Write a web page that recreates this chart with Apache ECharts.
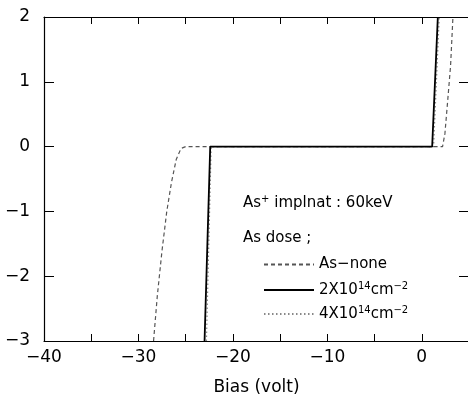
<!DOCTYPE html>
<html><head><meta charset="utf-8">
<script src="https://cdn.jsdelivr.net/npm/echarts@6/dist/echarts.min.js"></script>
<style>html,body{margin:0;padding:0;background:#fff}#c{width:468px;height:412px}</style>
</head><body><div id="c"></div>
<script>
// Data
const noneX = [-28.4, -28.0, -27.5, -27.0, -26.5, -26.0, -25.5, -25.0, 2.2, 2.45, 2.75, 3.05, 3.3];
const noneY = [-3, -2.3, -1.6, -1.0, -0.55, -0.2, -0.03, 0, 0, 0.2, 0.72, 1.25, 2];
const d2X = [-23.0, -22.4, 1.1, 1.7];
const d2Y = [-3, 0, 0, 2];
const d4X = [-22.8, -22.3, 1.25, 1.85];
const d4Y = [-3, 0, 0, 2];
const seriesNames = ['As\u2212none', '2X10{s|14}cm{s|\u22122}', '4X10{s|14}cm{s|\u22122}'];
const xTicks = [-40, -30, -20, -10, 0];
const yTicks = [-3, -2, -1, 0, 1, 2];

const pairs = (xs, ys) => xs.map((x, i) => [x, ys[i]]);
const fmt = v => (v < 0 ? '\u2212' + Math.abs(v) : String(v));
const FONT = 'DejaVu Sans';
const chart = echarts.init(document.getElementById('c'));
const rich = { s: { fontSize: 10, verticalAlign: 'top', padding: [0, 0, 8, 0], color: '#000', fontFamily: FONT } };
const baseAxis = {
  axisLine: { onZero: false, lineStyle: { color: '#000', width: 1.2 } },
  splitLine: { show: false },
};
chart.setOption({
  animation: false,
  grid: { left: 44, top: 17, width: 425, height: 324, containLabel: false, outerBoundsMode: 'none' },
  xAxis: [
    Object.assign({}, baseAxis, {
      type: 'value', min: -40, max: 5, interval: 5, position: 'bottom',
      axisTick: { inside: true, length: 7, lineStyle: { color: '#000' } },
      axisLabel: { margin: 8, color: '#000', fontSize: 17, fontFamily: FONT,
        formatter: v => xTicks.includes(v) ? fmt(v) : '' },
      name: 'Bias (volt)', nameLocation: 'middle', nameGap: 38,
      nameTextStyle: { color: '#000', fontSize: 17, fontFamily: FONT }
    }),
    Object.assign({}, baseAxis, {
      type: 'value', min: -40, max: 5, interval: 5, position: 'top',
      axisTick: { inside: true, length: 7, lineStyle: { color: '#000' } },
      axisLabel: { show: false }
    })
  ],
  yAxis: [
    Object.assign({}, baseAxis, {
      type: 'value', min: -3, max: 2, interval: 1, position: 'left',
      axisTick: { inside: true, length: 10, lineStyle: { color: '#000' } },
      axisLabel: { margin: 14, color: '#000', fontSize: 17, fontFamily: FONT,
        formatter: v => yTicks.includes(v) ? fmt(v) : '' }
    }),
    Object.assign({}, baseAxis, {
      type: 'value', min: -3, max: 2, interval: 1, position: 'right',
      axisLine: { show: false, onZero: false },
      axisTick: { inside: true, length: 10, lineStyle: { color: '#000' } },
      axisLabel: { show: false }
    })
  ],
  legend: [0, 1, 2].map(i => ({
    data: [seriesNames[i]],
    left: 258, top: [252, 276, 300][i],
    itemWidth: 50, itemHeight: 14,
    itemStyle: { opacity: 0 },
    formatter: n => n,
    textStyle: { color: '#000', fontSize: 15, fontFamily: FONT, rich: rich },
    selectedMode: false
  })),
  series: [
    { name: seriesNames[0], type: 'line', data: pairs(noneX, noneY), symbol: 'none', smooth: false,
      lineStyle: { color: '#555', width: 1.2, type: [4, 3] }, z: 3 },
    { name: seriesNames[1], type: 'line', data: pairs(d2X, d2Y), symbol: 'none',
      lineStyle: { color: '#000', width: 1.8, type: 'solid' }, z: 4 },
    { name: seriesNames[2], type: 'line', data: pairs(d4X, d4Y), symbol: 'none',
      lineStyle: { color: '#888', width: 1.2, type: [1.5, 2.5] }, z: 2 }
  ],
  graphic: [
    { type: 'text', left: 243, top: 194, style: { text: 'As{s|+} implnat : 60keV', rich: rich,
      fill: '#000', fontSize: 15, fontFamily: FONT } },
    { type: 'text', left: 243, top: 231, style: { text: 'As dose ;', fill: '#000', fontSize: 15, fontFamily: FONT } }
  ]
});
</script></body></html>
